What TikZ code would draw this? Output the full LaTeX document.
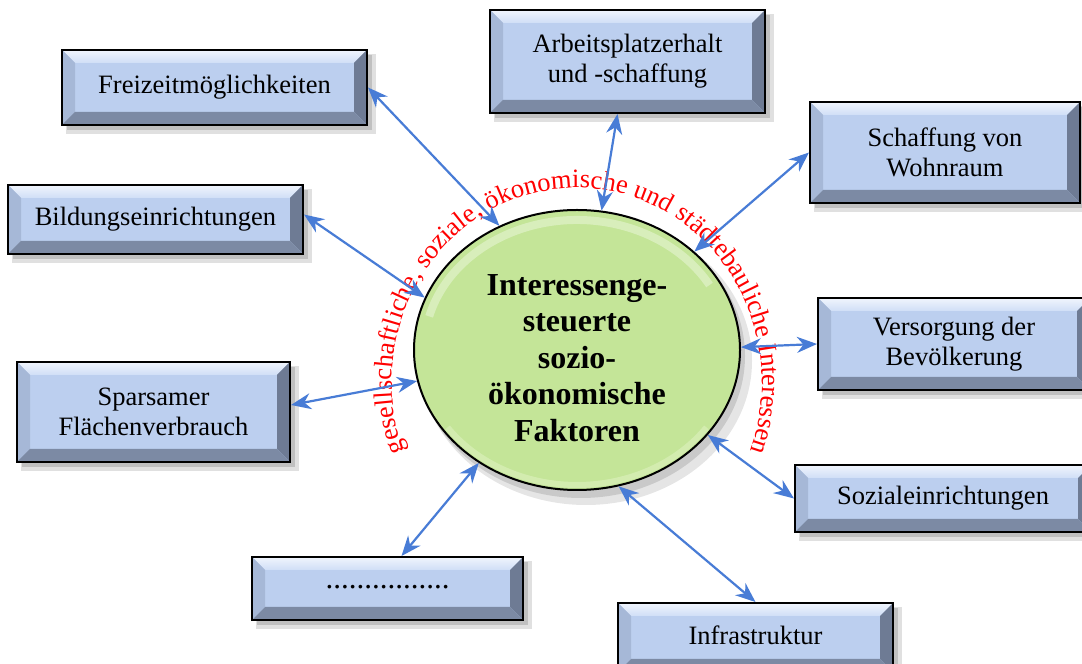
\documentclass[tikz,border=0pt]{standalone}
\usepackage{fontspec}
\setmainfont{Liberation Serif}
\usetikzlibrary{shapes.geometric,arrows.meta,decorations.text,calc}

\definecolor{facec}{RGB}{188,207,239}
\definecolor{topca}{RGB}{240,245,253}
\definecolor{topcb}{RGB}{208,222,246}
\definecolor{leftc}{RGB}{166,184,215}
\definecolor{rightc}{RGB}{110,123,148}
\definecolor{botc}{RGB}{124,138,164}
\definecolor{hubc}{RGB}{196,229,152}
\definecolor{hubrim}{RGB}{218,240,186}
\definecolor{linkc}{RGB}{72,124,214}

% bevel width of the framed boxes
\newcommand\bv{13}
% framed bevel box: name, x1, y1, x2, y2, label
\newcommand\bevbox[6]{%
  \fill[black,opacity=.12] (#2+4,#3-9) rectangle (#4+9,#5-4);
  \fill[black,opacity=.14] (#2+5,#3-5) rectangle (#4+5,#5-5);
  \fill[facec] (#2,#3) rectangle (#4,#5);
  \shade[top color=topca,bottom color=topcb] (#2,#5) -- (#4,#5) -- (#4-\bv,#5-\bv) -- (#2+\bv,#5-\bv) -- cycle;
  \fill[leftc] (#2,#3) -- (#2,#5) -- (#2+\bv,#5-\bv) -- (#2+\bv,#3+\bv) -- cycle;
  \fill[rightc] (#4,#3) -- (#4,#5) -- (#4-\bv,#5-\bv) -- (#4-\bv,#3+\bv) -- cycle;
  \fill[botc] (#2,#3) -- (#4,#3) -- (#4-\bv,#3+\bv) -- (#2+\bv,#3+\bv) -- cycle;
  \node[boxlabel, minimum width={#4-(#2)}, minimum height={#5-(#3)}] (#1) at ({(#2+#4)/2},{(#3+#5)/2}) {#6};
}

\begin{document}
\begin{tikzpicture}[x=1pt,y=1pt,
  boxlabel/.style={draw=black, line width=2pt, inner sep=0pt, align=center,
    font=\fontsize{26.5}{30}\selectfont},
  hub/.style={ellipse, draw=black, line width=2pt, fill=hubc, inner sep=0pt,
    minimum width=326pt, minimum height=280pt},
  hubtext/.style={align=center, font=\bfseries\fontsize{32}{36.5}\selectfont},
  link/.style={draw=linkc, line width=2.2pt, <->, >={Stealth[length=20pt,width=16pt]}}]

\useasboundingbox (0,0) rectangle (1082,664);
\fill[white] (0,0) rectangle (1082,664);

% central ellipse with its shadow, light rim and top highlight
\fill[black,opacity=.10] (586,303) ellipse [x radius=166, y radius=144];
\fill[black,opacity=.12] (581,308) ellipse [x radius=164, y radius=142];
\node[hub] (hub) at (577,314) {};
\draw[hubrim,opacity=.7,line width=6pt] ($(hub.center)+(215:158 and 135)$)
  arc[start angle=215,end angle=325,x radius=158,y radius=135];
\draw[white,opacity=.35,line width=8pt] ($(hub.center)+(165:153 and 130)$)
  arc[start angle=165,end angle=30,x radius=153,y radius=130];
\node[hubtext] (hubtxt) at (577,306) {Interessenge-\\steuerte\\sozio-\\ökonomische\\Faktoren};

% surrounding boxes
\bevbox{freizeit}{62}{539}{367}{614}{Freizeitmöglichkeiten}
\bevbox{arbeit}{490}{551}{765}{654}{Arbeitsplatzerhalt\\und -schaffung}
\bevbox{wohnraum}{810}{461}{1080}{562}{Schaffung von\\Wohnraum}
\bevbox{bildung}{8}{410}{303}{479}{Bildungseinrichtungen}
\bevbox{versorgung}{818}{274}{1090}{366}{Versorgung der\\Bevölkerung}
\bevbox{flaeche}{17}{202}{290}{302}{Sparsamer\\Flächenverbrauch}
\bevbox{sozial}{795}{132}{1091}{199}{Sozialeinrichtungen}
\bevbox{weitere}{252}{44}{523}{107}{\raisebox{4pt}{\fontsize{31}{31}\selectfont................}}
\bevbox{infra}{618}{-8}{893}{61}{\raisebox{5pt}{Infrastruktur}}

% red lettering bent around the ellipse
\path[decorate, decoration={text along path, text align=center,
  text={|\color{red}\fontsize{26.5}{26.5}\selectfont|gesellschaftliche, soziale, ökonomische und städtebauliche Interessen}}]
  ($(577,282)+(203:185 and 194)$) arc[start angle=203, end angle=-23, x radius=185, y radius=194];

% connectors
\draw[link] (freizeit.east) -- (hub.122);
\draw[link] ([xshift=-10pt]arbeit.south) -- (hub.80);
\draw[link] (wohnraum.west) -- (hub.40);
\draw[link] ([yshift=5pt]bildung.east) -- (hub.161);
\draw[link] (versorgung.west) -- (hub.1);
\draw[link] ([yshift=7pt]flaeche.east) -- (hub.191);
\draw[link] (sozial.west) -- (hub.327);
\draw[link] ([xshift=14pt]weitere.north) -- (hub.229);
\draw[link] (infra.north) -- (hub.287);
\end{tikzpicture}
\end{document}
